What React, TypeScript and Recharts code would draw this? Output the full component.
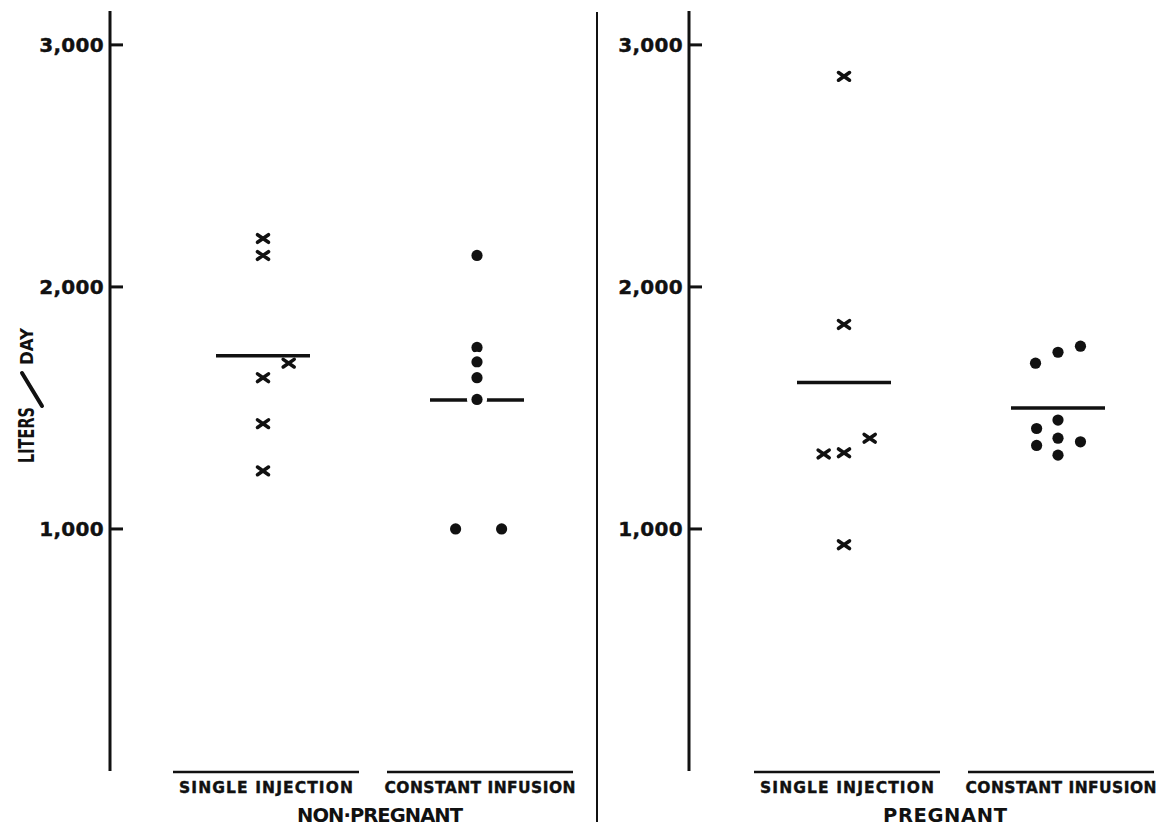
import React from 'react';
import { ScatterChart, Scatter, XAxis, YAxis } from 'recharts';

const categories = ['SINGLE INJECTION', 'CONSTANT INFUSION'];
const yTicks = [1000, 2000, 3000];

// non-pregnant
const npSingleValues = [2200, 2130, 1685, 1625, 1435, 1240];
const npSingleOffsets = [0, 0, 0.12, 0, 0, 0];
const npSingleMean = [1716];
const npInfusionValues = [2130, 1750, 1690, 1625, 1535, 1000, 1000];
const npInfusionOffsets = [0, 0, 0, 0, 0, -0.1, 0.115];
const npInfusionMean = [1533];

// pregnant
const pSingleValues = [2870, 1845, 1375, 1315, 1310, 935];
const pSingleOffsets = [0, 0, 0.12, 0, -0.095, 0];
const pSingleMean = [1605];
const pInfusionValues = [1685, 1730, 1755, 1415, 1450, 1345, 1375, 1360, 1305];
const pInfusionOffsets = [-0.105, 0, 0.105, -0.1, 0, -0.1, 0, 0.105, 0];
const pInfusionMean = [1500];

const INK = '#111';
const FONT = '"DejaVu Sans", sans-serif';
const UNIT = 214; // px per category step

const toPoints = (pos: number, values: number[], offsets: number[] = []) =>
  values.map((y, i) => ({ x: pos + (offsets[i] || 0), y }));

const Cross = ({ cx, cy }: any) => (
  <path
    d={`M${cx - 5.5},${cy - 3.8}L${cx + 5.5},${cy + 3.8}M${cx - 5.5},${cy + 3.8}L${cx + 5.5},${cy - 3.8}`}
    stroke={INK}
    strokeWidth={3.6}
    strokeLinecap="round"
    fill="none"
  />
);

const Dot = ({ cx, cy }: any) => (
  <circle cx={cx} cy={cy} r={5.6} fill={INK} stroke="#fff" strokeWidth={9} paintOrder="stroke" />
);

const MeanBar = ({ cx, cy }: any) => (
  <line x1={cx - 47} x2={cx + 47} y1={cy} y2={cy} stroke={INK} strokeWidth={3.5} />
);

const YTick = ({ x, y, payload }: any) => (
  <g>
    <line x1={x} x2={x + 13} y1={y} y2={y} stroke={INK} strokeWidth={3} />
    <text
      x={x - 6}
      y={y + 7}
      textAnchor="end"
      fontFamily={FONT}
      fontWeight="bold"
      fontSize={20}
      letterSpacing={0.3}
      stroke={INK}
      strokeWidth={0.4}
      fill={INK}
    >
      {Number(payload.value).toLocaleString('en-US')}
    </text>
  </g>
);

const labelWidths = [174, 191];

const XTick = ({ x, y, payload }: any) => {
  const i = payload.value - 1;
  const cx = x + 3;
  return (
    <g>
      <line x1={cx - 93} x2={cx + 93} y1={y + 1} y2={y + 1} stroke={INK} strokeWidth={2.5} />
      <text
        x={cx - labelWidths[i] / 2}
        y={y + 22}
        textLength={labelWidths[i]}
        lengthAdjust="spacing"
        fontFamily={FONT}
        fontWeight="bold"
        fontSize={15.5}
        stroke={INK}
        strokeWidth={0.4}
        fill={INK}
      >
        {categories[i]}
      </text>
    </g>
  );
};

const groupTitle = (text: string, x: number, width: number) => () => (
  <text
    x={x - width / 2}
    y={822}
    textLength={width}
    lengthAdjust="spacing"
    fontFamily={FONT}
    fontWeight="bold"
    fontSize={19.5}
    fill={INK}
  >
    {text}
  </text>
);

const yTitle = () => (
  <g transform="translate(34,395) rotate(-90)">
    <text
      x={-68}
      y={0}
      textLength={56}
      lengthAdjust="spacingAndGlyphs"
      fontFamily={FONT}
      fontWeight="bold"
      fontSize={21}
      fill={INK}
    >
      LITERS
    </text>
    <line x1={-11} y1={8} x2={22} y2={-12} stroke={INK} strokeWidth={4} strokeLinecap="round" />
    <text
      x={30}
      y={-1}
      textLength={37}
      lengthAdjust="spacingAndGlyphs"
      fontFamily={FONT}
      fontWeight="bold"
      fontSize={18}
      fill={INK}
    >
      DAY
    </text>
  </g>
);

type PanelProps = {
  width: number;
  axisWidth: number;
  firstGap: number;
  single: { x: number; y: number }[];
  singleMean: { x: number; y: number }[];
  infusion: { x: number; y: number }[];
  infusionMean: { x: number; y: number }[];
  title: string;
  titleX: number;
  titleWidth: number;
  showYTitle?: boolean;
};

const Panel: React.FC<PanelProps> = ({
  width, axisWidth, firstGap, single, singleMean, infusion, infusionMean,
  title, titleX, titleWidth, showYTitle
}) => {
  const lo = 1 - firstGap / UNIT;
  const hi = lo + (width - axisWidth) / UNIT;
  return (
    <ScatterChart width={width} height={827} margin={{ top: 11, right: 0, bottom: 0, left: 0 }}>
      <XAxis
        type="number"
        dataKey="x"
        domain={[lo, hi]}
        allowDataOverflow
        ticks={[1, 2]}
        axisLine={false}
        tickLine={false}
        tickSize={0}
        tickMargin={0}
        height={56}
        tick={<XTick />}
        label={groupTitle(title, titleX, titleWidth)}
      />
      <YAxis
        type="number"
        dataKey="y"
        domain={[0, 3140]}
        allowDataOverflow
        ticks={yTicks}
        width={axisWidth}
        axisLine={{ stroke: INK, strokeWidth: 3 }}
        tickLine={false}
        tickSize={0}
        tickMargin={0}
        tick={<YTick />}
        label={showYTitle ? yTitle : undefined}
      />
      <Scatter data={singleMean} shape={<MeanBar />} isAnimationActive={false} />
      <Scatter data={infusionMean} shape={<MeanBar />} isAnimationActive={false} />
      <Scatter data={single} shape={<Cross />} isAnimationActive={false} />
      <Scatter data={infusion} shape={<Dot />} isAnimationActive={false} />
    </ScatterChart>
  );
};

export default function App() {
  return (
    <div style={{ position: 'absolute', left: 0, top: 0, width: 1159, height: 827, background: '#fff' }}>
      <div style={{ position: 'absolute', left: 0, top: 0 }}>
        <Panel
          width={597}
          axisWidth={110}
          firstGap={153}
          single={toPoints(1, npSingleValues, npSingleOffsets)}
          singleMean={toPoints(1, npSingleMean)}
          infusion={toPoints(2, npInfusionValues, npInfusionOffsets)}
          infusionMean={toPoints(2, npInfusionMean)}
          title="NON·PREGNANT"
          titleX={380}
          titleWidth={166}
          showYTitle
        />
      </div>
      <div style={{ position: 'absolute', left: 596, top: 12, width: 2, height: 810, background: INK }} />
      <div style={{ position: 'absolute', left: 597, top: 0 }}>
        <Panel
          width={562}
          axisWidth={92}
          firstGap={155}
          single={toPoints(1, pSingleValues, pSingleOffsets)}
          singleMean={toPoints(1, pSingleMean)}
          infusion={toPoints(2, pInfusionValues, pInfusionOffsets)}
          infusionMean={toPoints(2, pInfusionMean)}
          title="PREGNANT"
          titleX={348}
          titleWidth={124}
        />
      </div>
    </div>
  );
}
